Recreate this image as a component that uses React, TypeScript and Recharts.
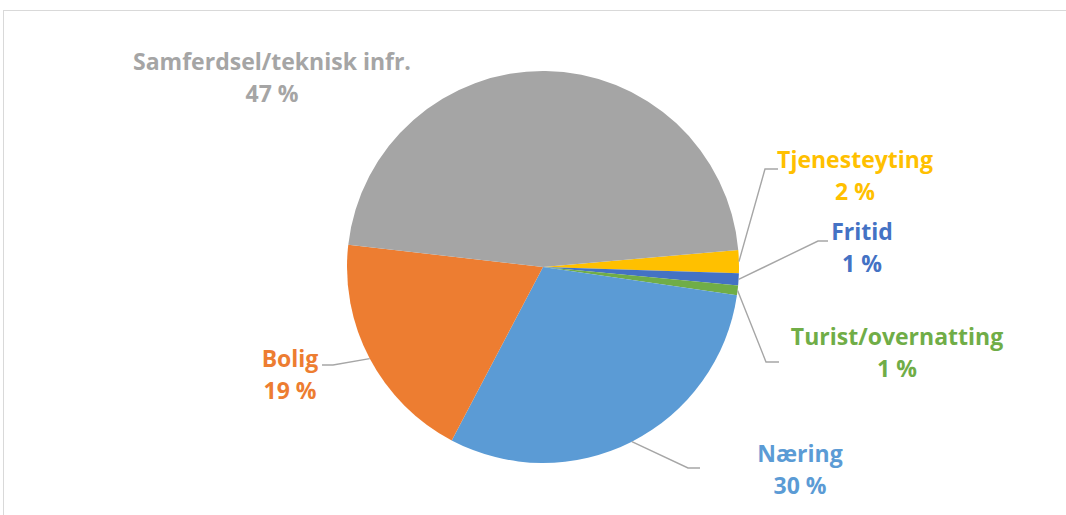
import { PieChart, Pie, Cell } from "recharts";

// kategorier i rekkefølge med klokka, fra "Tjenesteyting"
const categories = [
  "Tjenesteyting",
  "Fritid",
  "Turist/overnatting",
  "Næring",
  "Bolig",
  "Samferdsel/teknisk infr.",
];
const shares = [1.9, 1.0, 0.8, 30.4, 19.1, 46.8];
const colors = ["#FFC000", "#4472C4", "#70AD47", "#5B9BD5", "#ED7D31", "#A5A5A5"];

const data = categories.map((name, i) => ({ name, value: shares[i] }));

// plassering av etiketter (tekstsenter, første grunnlinje) og knekkpunkt for linjer
const labelLayout: Record<string, { x: number; y: number; elbow?: [number, number]; end?: [number, number] }> = {
  "Tjenesteyting": { x: 855, y: 168, elbow: [765, 169], end: [778, 169] },
  "Fritid": { x: 862, y: 240, elbow: [818, 241], end: [828, 241] },
  "Turist/overnatting": { x: 897, y: 345, elbow: [766, 362], end: [779, 362] },
  "Næring": { x: 800, y: 462, elbow: [688, 468], end: [700, 468] },
  "Bolig": { x: 290, y: 367, elbow: [333, 365], end: [322, 365] },
  "Samferdsel/teknisk infr.": { x: 272, y: 70 },
};

const RAD = Math.PI / 180;

function renderLabel(props: any) {
  const { cx, cy, midAngle, outerRadius, index, name, percent } = props;
  const lay = labelLayout[name];
  const color = colors[index];
  const sx = cx + outerRadius * Math.cos(-midAngle * RAD);
  const sy = cy + outerRadius * Math.sin(-midAngle * RAD);
  return (
    <g key={name}>
      {lay.elbow && lay.end && (
        <polyline
          points={`${sx},${sy} ${lay.elbow[0]},${lay.elbow[1]} ${lay.end[0]},${lay.end[1]}`}
          fill="none"
          stroke="#A6A6A6"
          strokeWidth={1.4}
        />
      )}
      <text
        x={lay.x}
        y={lay.y}
        textAnchor="middle"
        fill={color}
        fontFamily="'Open Sans', Lato, sans-serif"
        fontWeight={700}
        fontSize={23}
      >
        <tspan x={lay.x} y={lay.y}>{name}</tspan>
        <tspan x={lay.x} y={lay.y + 32}>{`${Math.round(percent * 100)} %`}</tspan>
      </text>
    </g>
  );
}

export default function App() {
  return (
    <div style={{ position: "absolute", left: 0, top: 0, width: 1066, height: 515, background: "#fff" }}>
      <div
        style={{
          position: "absolute",
          left: 3,
          top: 10,
          width: 1063,
          height: 505,
          borderTop: "1px solid #D9D9D9",
          borderLeft: "1px solid #D9D9D9",
        }}
      />
      <PieChart
        width={1066}
        height={515}
        margin={{ top: 0, right: 0, bottom: 0, left: 0 }}
        style={{ position: "absolute", left: 0, top: 0 }}
      >
        <Pie
          data={data}
          dataKey="value"
          nameKey="name"
          cx={543}
          cy={267}
          outerRadius={196}
          startAngle={5}
          endAngle={-355}
          stroke="none"
          label={renderLabel}
          labelLine={false}
          isAnimationActive={false}
        >
          {data.map((d, i) => (
            <Cell key={d.name} fill={colors[i]} />
          ))}
        </Pie>
      </PieChart>
    </div>
  );
}
